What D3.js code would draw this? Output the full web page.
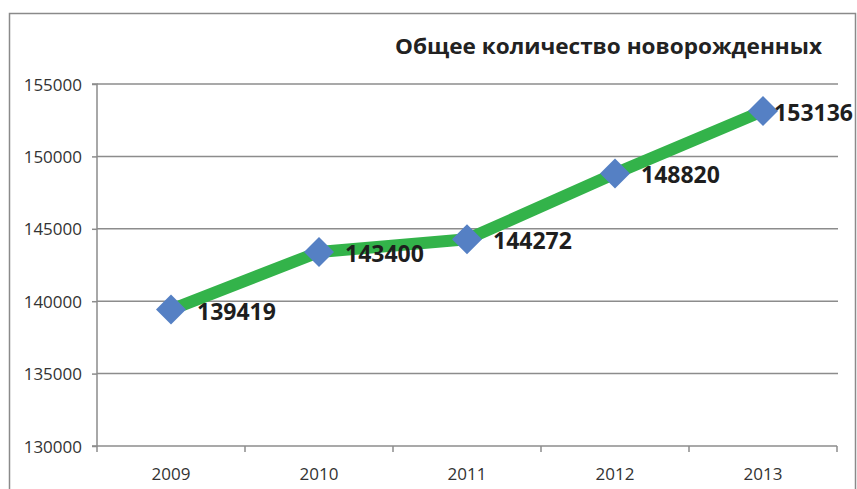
<!DOCTYPE html>
<html>
<head>
<meta charset="utf-8">
<script src="https://cdn.jsdelivr.net/npm/d3@7"></script>
<style>
  html, body { margin: 0; padding: 0; background: #fff; }
  svg { display: block; }
</style>
</head>
<body>
<svg id="chart" width="857" height="489"></svg>
<script>
const title = "Общее количество новорожденных";
const years = ["2009", "2010", "2011", "2012", "2013"];
const births = [139419, 143400, 144272, 148820, 153136];
const yTicks = [130000, 135000, 140000, 145000, 150000, 155000];

const svg = d3.select("#chart");
const W = 857, H = 489;
const m = { left: 97, right: 20, top: 84, bottom: 43 };
const plotR = 837, plotB = 446;

// outer frame
svg.append("rect")
  .attr("x", 9.5).attr("y", 13.5)
  .attr("width", 846).attr("height", 500)
  .attr("fill", "none").attr("stroke", "#8a8a8a").attr("stroke-width", 1.5);

const x = d3.scaleBand().domain(years).range([m.left, plotR]).paddingInner(0).paddingOuter(0);
const y = d3.scaleLinear().domain([130000, 155000]).range([plotB, m.top]);

// gridlines
svg.append("g").selectAll("line")
  .data(yTicks.slice(1))
  .join("line")
  .attr("x1", m.left).attr("x2", plotR + 1)
  .attr("y1", d => y(d)).attr("y2", d => y(d))
  .attr("stroke", "#8c8c8c").attr("stroke-width", 1.5);

// y axis
const yAxis = d3.axisLeft(y).tickValues(yTicks).tickSize(5).tickPadding(10).tickFormat(d3.format("d"));
const gy = svg.append("g").attr("transform", `translate(${m.left},0)`).call(yAxis);
gy.select(".domain").attr("stroke", "#8c8c8c").attr("stroke-width", 1.5).attr("d", `M-5,${y(155000)}H0V${plotB}H-5`);
gy.selectAll(".tick line").attr("stroke", "#8c8c8c").attr("stroke-width", 1.5);
gy.selectAll(".tick text")
  .attr("font-family", "Open Sans, sans-serif").attr("font-size", 17)
  .attr("fill", "#333").attr("dy", "0.36em");

// x axis
const gx = svg.append("g").attr("transform", `translate(0,${plotB})`);
gx.append("line").attr("x1", m.left).attr("x2", plotR)
  .attr("y1", 0).attr("y2", 0).attr("stroke", "#8c8c8c").attr("stroke-width", 1.5);
const bounds = years.map(d => x(d) + x.bandwidth()).concat([x(years[0])]);
gx.selectAll("line.tk").data(bounds).join("line").attr("class", "tk")
  .attr("x1", d => d).attr("x2", d => d).attr("y1", 0).attr("y2", 6)
  .attr("stroke", "#8c8c8c").attr("stroke-width", 1.5);
gx.selectAll("text").data(years).join("text")
  .attr("x", d => x(d) + x.bandwidth() / 2).attr("y", 34)
  .attr("text-anchor", "middle")
  .attr("font-family", "Open Sans, sans-serif").attr("font-size", 17)
  .attr("fill", "#333").text(d => d);

// line
const data = years.map((yr, i) => ({ yr, v: births[i] }));
const cx = d => x(d.yr) + x.bandwidth() / 2;
svg.append("path").datum(data)
  .attr("d", d3.line().x(cx).y(d => y(d.v)))
  .attr("fill", "none").attr("stroke", "#33b34a").attr("stroke-width", 12)
  .attr("stroke-linejoin", "round");

// diamonds
const r = 15;
svg.append("g").selectAll("path").data(data).join("path")
  .attr("transform", d => `translate(${cx(d)},${y(d.v)})`)
  .attr("d", `M0,${-r}L${r},0L0,${r}L${-r},0Z`)
  .attr("fill", "#5580c4");

// labels (shifted left to stay inside the frame when needed)
const rightLimit = 853;
svg.append("g").selectAll("text").data(data).join("text")
  .attr("font-family", "Open Sans, sans-serif").attr("font-weight", 700)
  .attr("font-size", 23).attr("fill", "#1e1e1e")
  .text(d => d.v)
  .attr("y", d => y(d.v) + 10)
  .attr("x", function(d) {
    const w = this.getComputedTextLength();
    return Math.min(cx(d) + 26, rightLimit - w);
  });

// title
svg.append("text").attr("x", 395).attr("y", 54)
  .attr("font-family", "Open Sans, sans-serif").attr("font-weight", 700)
  .attr("font-size", 22).attr("fill", "#222")
  .attr("textLength", 427).attr("lengthAdjust", "spacingAndGlyphs")
  .text(title);
</script>
</body>
</html>
